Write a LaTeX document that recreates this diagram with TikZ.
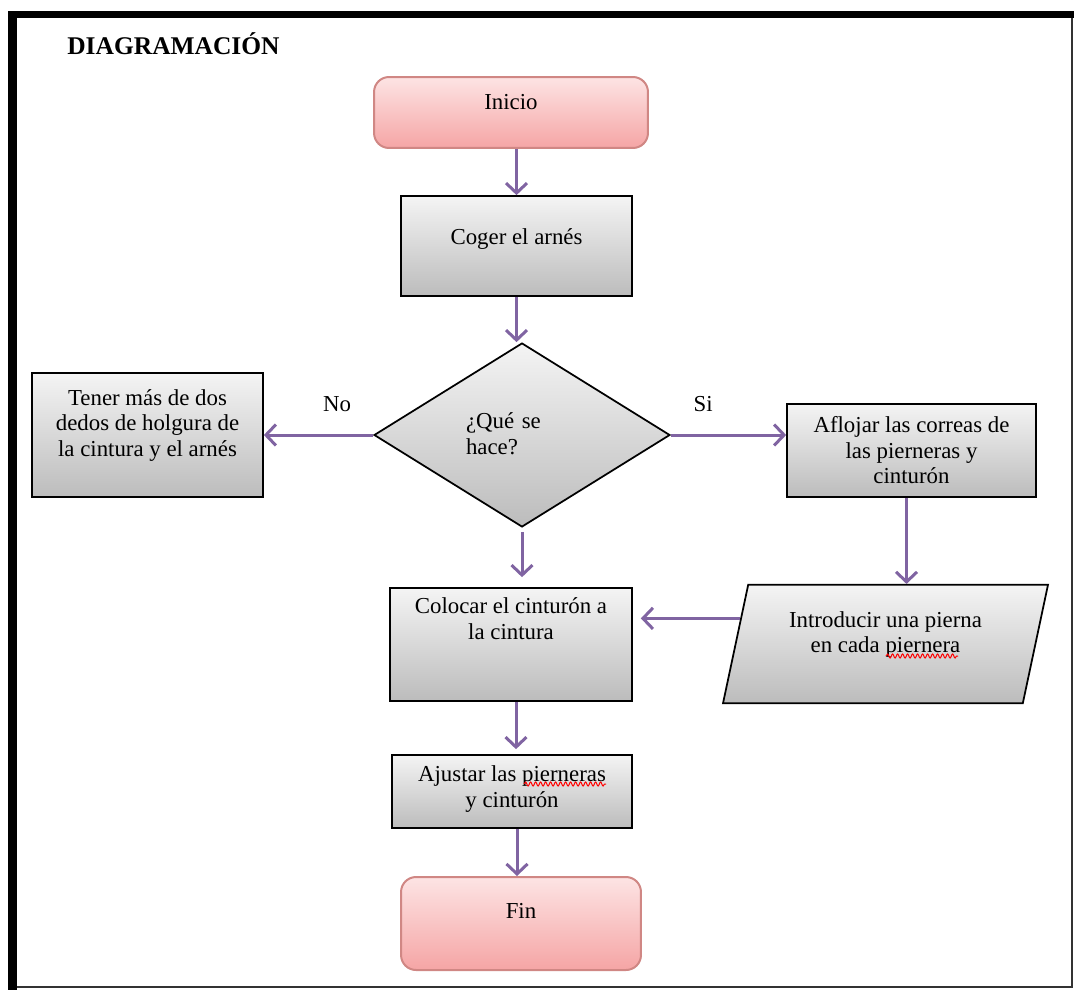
\documentclass[tikz,border=0pt]{standalone}
\usepackage{fontspec}
\setmainfont{Liberation Serif}
\usetikzlibrary{arrows.meta,shapes.geometric,decorations.pathmorphing}

\definecolor{morado}{HTML}{8064A2}
\definecolor{grisA}{HTML}{F4F4F4}
\definecolor{grisB}{HTML}{BCBCBC}
\definecolor{rosaA}{HTML}{FDE4E4}
\definecolor{rosaB}{HTML}{F5A5A5}
\definecolor{rosaBorde}{HTML}{D08784}

\begin{document}
\begin{tikzpicture}[x=0.02cm,y=-0.02cm]
	\tikzstyle{texto}=[font=\fontsize{13}{14.5}\selectfont, align=center, inner sep=0pt]
	\tikzstyle{proceso}=[texto, draw=black, line width=0.035cm, top color=grisA, bottom color=grisB]
	\tikzstyle{extremo}=[texto, draw=rosaBorde, line width=0.04cm, rounded corners=0.3cm, top color=rosaA, bottom color=rosaB]
	\tikzstyle{flecha}=[draw=morado, line width=0.06cm, -{Straight Barb[length=0.2cm,width=0.42cm]}]
	\tikzstyle{ondulado}=[red, line width=0.02cm, decorate, decoration={snake, amplitude=0.04cm, segment length=0.1cm}]
	\useasboundingbox (0,0) rectangle (1074,990);
	% marco
	\fill[black] (8,11) rectangle (1074,18);
	\fill[black] (8,11) rectangle (17,990);
	\draw[line width=0.04cm, black!80] (1072,18) -- (1072,987) -- (17,987);
	\node[font=\fontsize{14.5}{16}\selectfont\bfseries, anchor=west, inner sep=0pt] (titulo) at (67,44) {DIAGRAMACIÓN};
	% nodos
	\node[extremo, minimum width=5.48cm, minimum height=1.42cm, text depth=0.42cm] (ini) at (511,112.5) {Inicio};
	\node[proceso, minimum width=4.62cm, minimum height=2cm, text depth=0.36cm] (coger) at (516.5,246) {Coger el arnés};
	\node[proceso, diamond, minimum width=5.92cm, minimum height=3.68cm, text width=2.24cm, align=left, text depth=0.56cm] (dec) at (522,435) {¿Qué se\\hace?};
	\node[proceso, minimum width=4.62cm, minimum height=2.48cm, text depth=0.48cm] (hol) at (147.5,435) {Tener más de dos\\dedos de holgura de\\la cintura y el arnés};
	\node[proceso, minimum width=4.98cm, minimum height=1.86cm] (afl) at (911.5,450.5) {Aflojar las correas de\\las pierneras y\\cinturón};
	\node[proceso, trapezium, trapezium left angle=78, trapezium right angle=102, trapezium stretches body=true, inner ysep=0.53cm, minimum width=6.5cm, minimum height=2.36cm, text depth=0.48cm] (intro) at (885.5,644) {Introducir una pierna\\en cada piernera};
	\node[proceso, minimum width=4.84cm, minimum height=2.26cm, text depth=1.04cm] (col) at (511,644.5) {Colocar el cinturón a\\la cintura};
	\node[proceso, minimum width=4.8cm, minimum height=1.46cm, text depth=0.2cm] (aju) at (512,791.5) {Ajustar las pierneras\\y cinturón};
	\node[extremo, minimum width=4.8cm, minimum height=1.86cm, text depth=0.5cm] (fin) at (521,923.5) {Fin};
	% subrayado del corrector
	\draw[ondulado] (886,656) -- (958,656);
	\draw[ondulado] (524,784) -- (606,784);
	% conectores
	\draw[flecha] (coger.north |- ini.south) -- (coger.north);
	\draw[flecha] (coger.south) -- (coger.south |- dec.north);
	\draw[flecha] (dec.west) -- (hol.east |- dec.west) node[texto, pos=0.33, yshift=0.62cm] {No};
	\draw[flecha] (dec.east) -- (afl.west |- dec.east) node[texto, pos=0.28, yshift=0.62cm] {Si};
	\draw[flecha, shorten <=0.08cm, shorten >=0.2cm] (dec.south) -- (dec.south |- col.north);
	\draw[flecha] ([xshift=-0.1cm]afl.south) -- ([xshift=-0.1cm]afl.south |- intro.north);
	\draw[flecha, shorten >=0.16cm] (intro.170) -- (col.east |- intro.170);
	\draw[flecha, shorten >=0.1cm] ([xshift=0.1cm]col.south) -- ([xshift=0.1cm]col.south |- aju.north);
	\draw[flecha] ([xshift=0.1cm]aju.south) -- ([xshift=0.1cm]aju.south |- fin.north);
\end{tikzpicture}
\end{document}
